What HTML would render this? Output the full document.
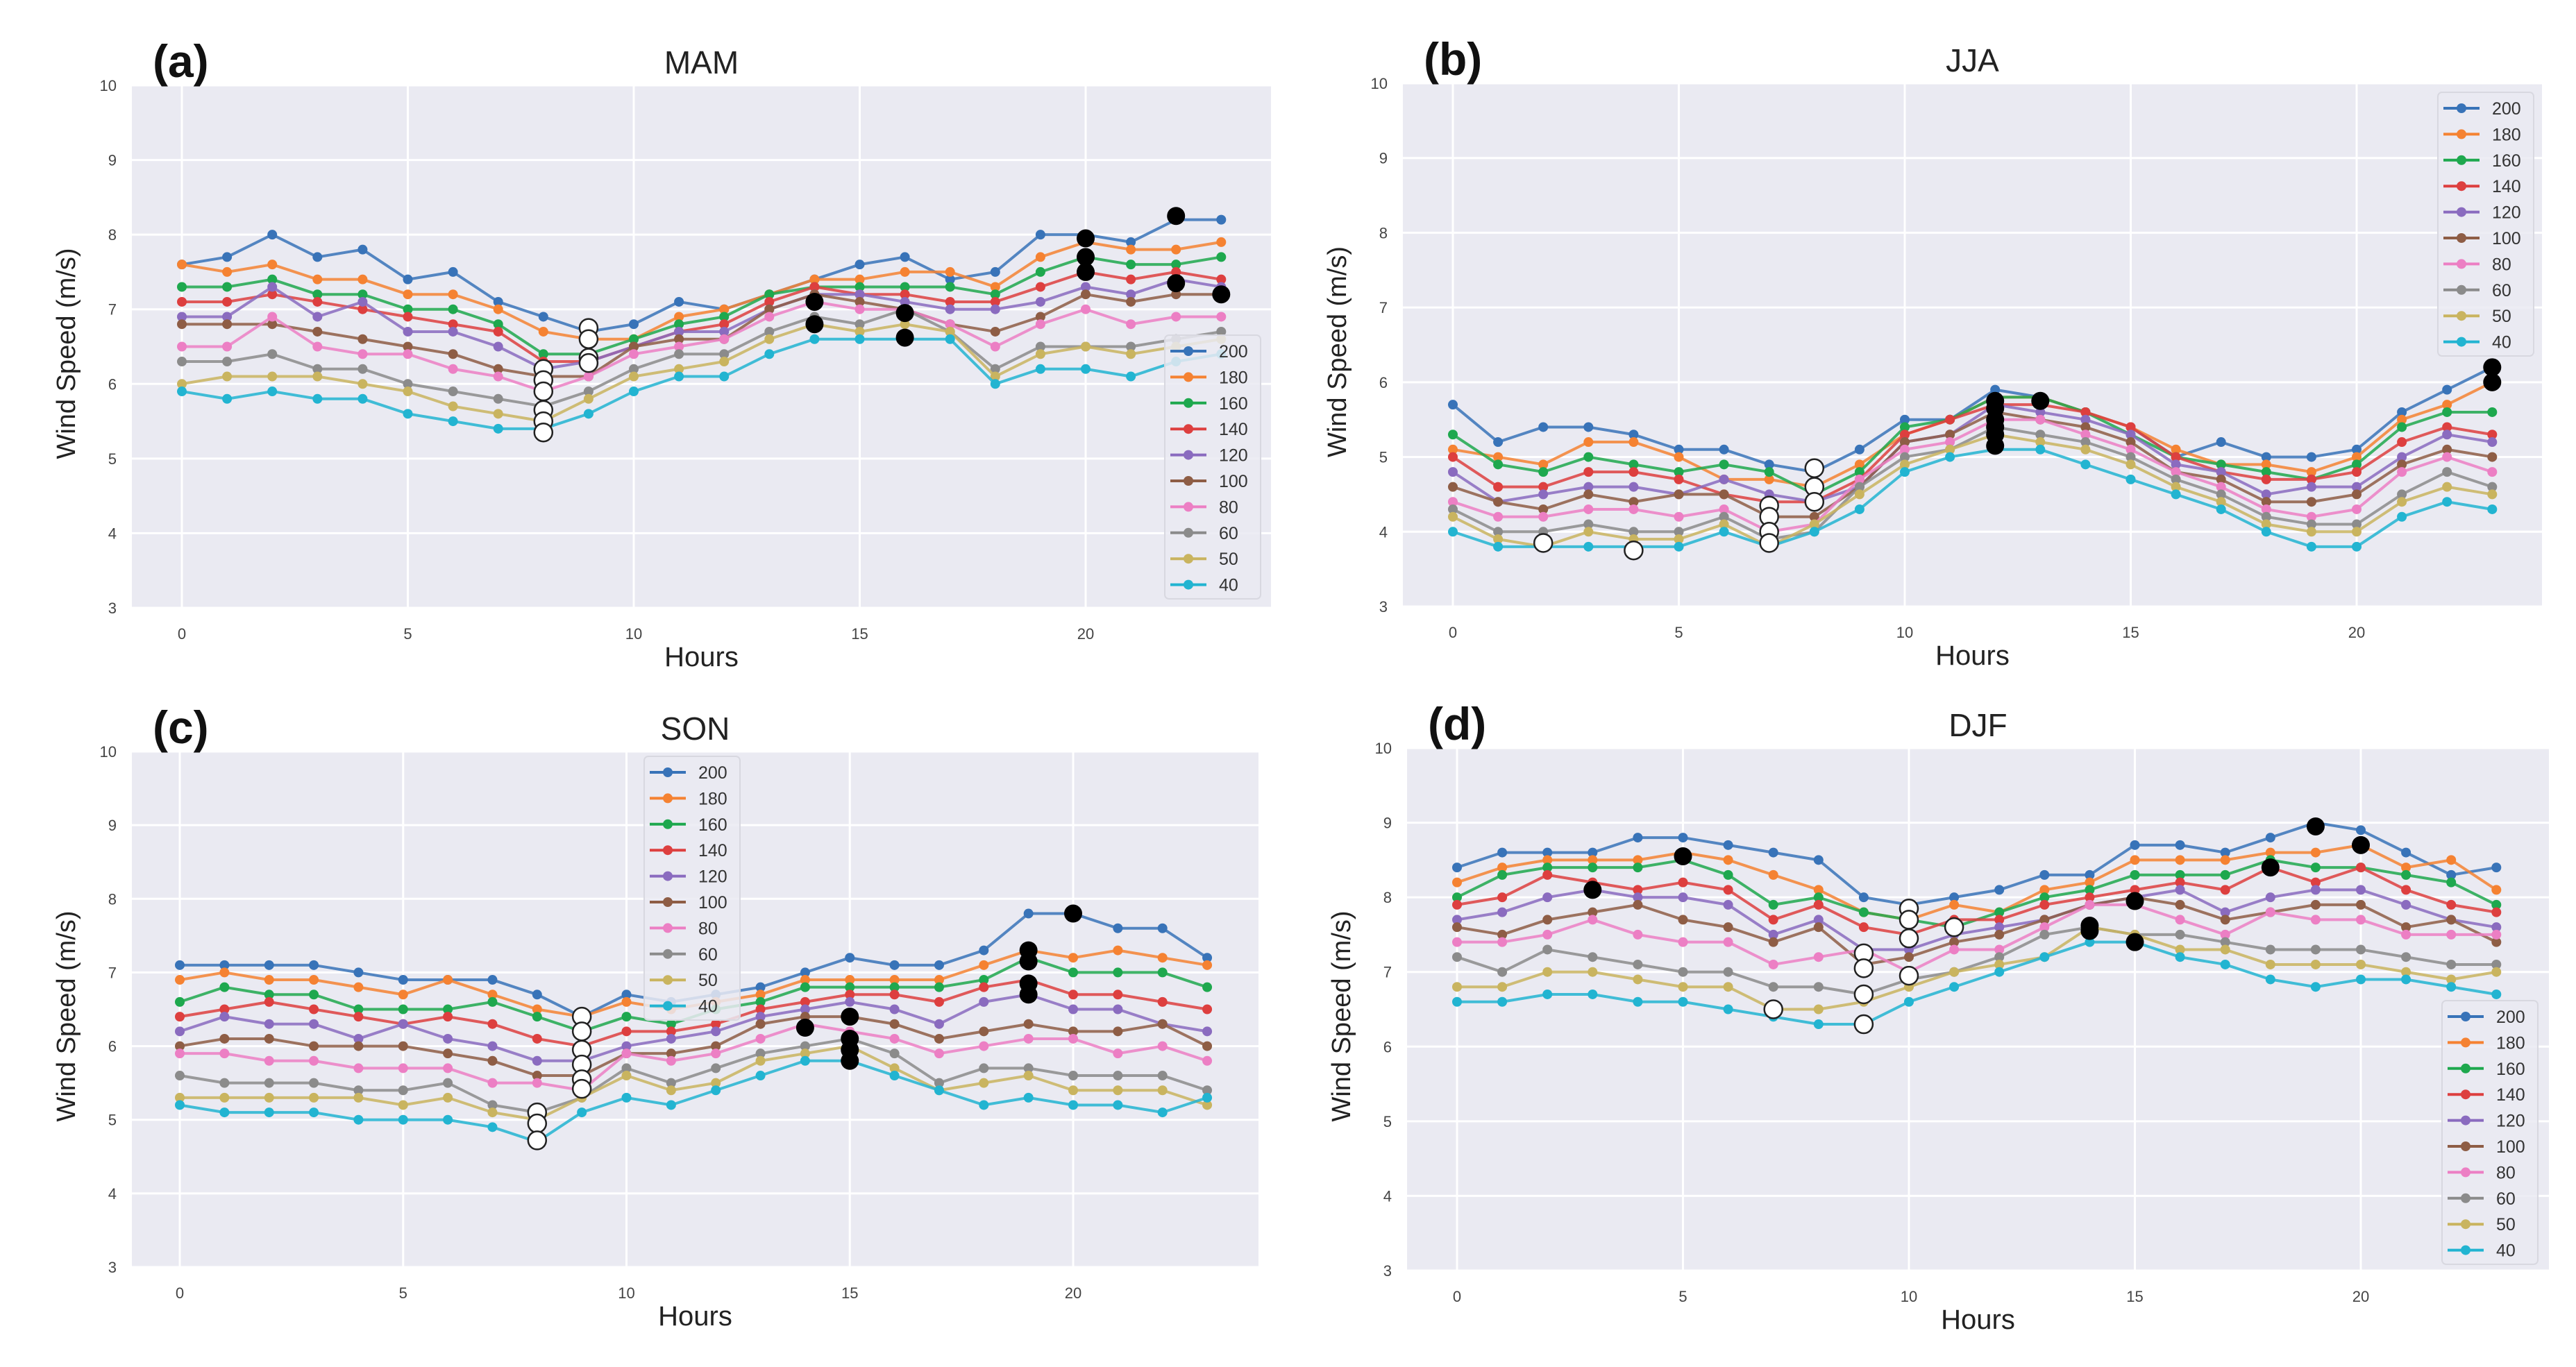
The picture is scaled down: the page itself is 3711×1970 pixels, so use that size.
<!DOCTYPE html>
<html><head><meta charset="utf-8"><style>
html,body{margin:0;padding:0;background:#fff;}
svg{display:block;font-family:"Liberation Sans","DejaVu Sans",sans-serif;}
</style></head><body>
<svg id="fig" width="3711" height="1970" viewBox="0 0 3711 1970" xmlns="http://www.w3.org/2000/svg"></svg>
<script>
const hours = [0,1,2,3,4,5,6,7,8,9,10,11,12,13,14,15,16,17,18,19,20,21,22,23];
const heights = ["200","180","160","140","120","100","80","60","50","40"];
const yTicks = [3,4,5,6,7,8,9,10];
const xTicks = [0,5,10,15,20];
const colors = ["#3873b8","#f58232","#1ea84e","#dd3f3f","#8a6bbf","#8e5d45","#ec7fc4","#8b8b8b","#c9b45f","#22b4d1"];

const mam = [
[7.6,7.7,8.0,7.7,7.8,7.4,7.5,7.1,6.9,6.7,6.8,7.1,7.0,7.2,7.4,7.6,7.7,7.4,7.5,8.0,8.0,7.9,8.2,8.2],
[7.6,7.5,7.6,7.4,7.4,7.2,7.2,7.0,6.7,6.6,6.6,6.9,7.0,7.2,7.4,7.4,7.5,7.5,7.3,7.7,7.9,7.8,7.8,7.9],
[7.3,7.3,7.4,7.2,7.2,7.0,7.0,6.8,6.4,6.4,6.6,6.8,6.9,7.2,7.3,7.3,7.3,7.3,7.2,7.5,7.7,7.6,7.6,7.7],
[7.1,7.1,7.2,7.1,7.0,6.9,6.8,6.7,6.3,6.3,6.5,6.7,6.8,7.1,7.3,7.2,7.2,7.1,7.1,7.3,7.5,7.4,7.5,7.4],
[6.9,6.9,7.3,6.9,7.1,6.7,6.7,6.5,6.2,6.3,6.5,6.7,6.7,7.0,7.2,7.2,7.1,7.0,7.0,7.1,7.3,7.2,7.4,7.3],
[6.8,6.8,6.8,6.7,6.6,6.5,6.4,6.2,6.1,6.1,6.5,6.6,6.6,7.0,7.2,7.1,7.0,6.8,6.7,6.9,7.2,7.1,7.2,7.2],
[6.5,6.5,6.9,6.5,6.4,6.4,6.2,6.1,5.9,6.1,6.4,6.5,6.6,6.9,7.1,7.0,7.0,6.8,6.5,6.8,7.0,6.8,6.9,6.9],
[6.3,6.3,6.4,6.2,6.2,6.0,5.9,5.8,5.7,5.9,6.2,6.4,6.4,6.7,6.9,6.8,7.0,6.7,6.2,6.5,6.5,6.5,6.6,6.7],
[6.0,6.1,6.1,6.1,6.0,5.9,5.7,5.6,5.5,5.8,6.1,6.2,6.3,6.6,6.8,6.7,6.8,6.7,6.1,6.4,6.5,6.4,6.5,6.6],
[5.9,5.8,5.9,5.8,5.8,5.6,5.5,5.4,5.4,5.6,5.9,6.1,6.1,6.4,6.6,6.6,6.6,6.6,6.0,6.2,6.2,6.1,6.3,6.4]];
const mamMin = [[8,6.2],[8,6.05],[8,5.9],[8,5.65],[8,5.5],[8,5.35],[9,6.75],[9,6.6],[9,6.35],[9,6.28]];
const mamMax = [[14,7.1],[14,6.8],[16,6.95],[16,6.62],[20,7.95],[20,7.7],[20,7.5],[22,8.25],[22,7.35],[23,7.2]];

const jja = [
[5.7,5.2,5.4,5.4,5.3,5.1,5.1,4.9,4.8,5.1,5.5,5.5,5.9,5.8,5.6,5.4,5.0,5.2,5.0,5.0,5.1,5.6,5.9,6.2],
[5.1,5.0,4.9,5.2,5.2,5.0,4.7,4.7,4.6,4.9,5.3,5.5,5.8,5.8,5.6,5.4,5.1,4.9,4.9,4.8,5.0,5.5,5.7,6.0],
[5.3,4.9,4.8,5.0,4.9,4.8,4.9,4.8,4.5,4.8,5.4,5.5,5.8,5.8,5.6,5.3,5.0,4.9,4.8,4.7,4.9,5.4,5.6,5.6],
[5.0,4.6,4.6,4.8,4.8,4.7,4.5,4.4,4.4,4.7,5.3,5.5,5.7,5.7,5.6,5.4,5.0,4.8,4.7,4.7,4.8,5.2,5.4,5.3],
[4.8,4.4,4.5,4.6,4.6,4.5,4.7,4.5,4.4,4.6,5.2,5.3,5.7,5.6,5.5,5.3,4.9,4.8,4.5,4.6,4.6,5.0,5.3,5.2],
[4.6,4.4,4.3,4.5,4.4,4.5,4.5,4.2,4.2,4.6,5.2,5.3,5.6,5.5,5.4,5.2,4.8,4.7,4.4,4.4,4.5,4.9,5.1,5.0],
[4.4,4.2,4.2,4.3,4.3,4.2,4.3,4.0,4.1,4.7,5.1,5.2,5.5,5.5,5.3,5.1,4.8,4.6,4.3,4.2,4.3,4.8,5.0,4.8],
[4.3,4.0,4.0,4.1,4.0,4.0,4.2,3.9,4.0,4.6,5.0,5.1,5.4,5.3,5.2,5.0,4.7,4.5,4.2,4.1,4.1,4.5,4.8,4.6],
[4.2,3.9,3.8,4.0,3.9,3.9,4.1,3.8,4.1,4.5,4.9,5.1,5.3,5.2,5.1,4.9,4.6,4.4,4.1,4.0,4.0,4.4,4.6,4.5],
[4.0,3.8,3.8,3.8,3.8,3.8,4.0,3.8,4.0,4.3,4.8,5.0,5.1,5.1,4.9,4.7,4.5,4.3,4.0,3.8,3.8,4.2,4.4,4.3]];
const jjaMin = [[2,3.85],[4,3.75],[7,4.35],[7,4.2],[7,4.0],[7,3.85],[8,4.85],[8,4.6],[8,4.4]];
const jjaMax = [[12,5.75],[12,5.65],[12,5.5],[12,5.4],[12,5.3],[12,5.15],[13,5.75],[23,6.2],[23,6.0]];

const son = [
[7.1,7.1,7.1,7.1,7.0,6.9,6.9,6.9,6.7,6.4,6.7,6.6,6.7,6.8,7.0,7.2,7.1,7.1,7.3,7.8,7.8,7.6,7.6,7.2],
[6.9,7.0,6.9,6.9,6.8,6.7,6.9,6.7,6.5,6.4,6.6,6.5,6.6,6.7,6.9,6.9,6.9,6.9,7.1,7.3,7.2,7.3,7.2,7.1],
[6.6,6.8,6.7,6.7,6.5,6.5,6.5,6.6,6.4,6.2,6.4,6.3,6.5,6.6,6.8,6.8,6.8,6.8,6.9,7.2,7.0,7.0,7.0,6.8],
[6.4,6.5,6.6,6.5,6.4,6.3,6.4,6.3,6.1,6.0,6.2,6.2,6.3,6.5,6.6,6.7,6.7,6.6,6.8,6.9,6.7,6.7,6.6,6.5],
[6.2,6.4,6.3,6.3,6.1,6.3,6.1,6.0,5.8,5.8,6.0,6.1,6.2,6.4,6.5,6.6,6.5,6.3,6.6,6.7,6.5,6.5,6.3,6.2],
[6.0,6.1,6.1,6.0,6.0,6.0,5.9,5.8,5.6,5.6,5.9,5.9,6.0,6.3,6.4,6.4,6.3,6.1,6.2,6.3,6.2,6.2,6.3,6.0],
[5.9,5.9,5.8,5.8,5.7,5.7,5.7,5.5,5.5,5.4,5.9,5.8,5.9,6.1,6.3,6.2,6.1,5.9,6.0,6.1,6.1,5.9,6.0,5.8],
[5.6,5.5,5.5,5.5,5.4,5.4,5.5,5.2,5.1,5.3,5.7,5.5,5.7,5.9,6.0,6.1,5.9,5.5,5.7,5.7,5.6,5.6,5.6,5.4],
[5.3,5.3,5.3,5.3,5.3,5.2,5.3,5.1,5.0,5.3,5.6,5.4,5.5,5.8,5.9,6.0,5.7,5.4,5.5,5.6,5.4,5.4,5.4,5.2],
[5.2,5.1,5.1,5.1,5.0,5.0,5.0,4.9,4.7,5.1,5.3,5.2,5.4,5.6,5.8,5.8,5.6,5.4,5.2,5.3,5.2,5.2,5.1,5.3]];
const sonMin = [[8,5.1],[8,4.95],[8,4.72],[9,6.4],[9,6.2],[9,5.95],[9,5.75],[9,5.55],[9,5.42]];
const sonMax = [[14,6.25],[15,6.4],[15,6.1],[15,5.95],[15,5.8],[19,7.3],[19,7.15],[19,6.85],[19,6.7],[20,7.8]];

const djf = [
[8.4,8.6,8.6,8.6,8.8,8.8,8.7,8.6,8.5,8.0,7.9,8.0,8.1,8.3,8.3,8.7,8.7,8.6,8.8,9.0,8.9,8.6,8.3,8.4],
[8.2,8.4,8.5,8.5,8.5,8.6,8.5,8.3,8.1,7.8,7.7,7.9,7.8,8.1,8.2,8.5,8.5,8.5,8.6,8.6,8.7,8.4,8.5,8.1],
[8.0,8.3,8.4,8.4,8.4,8.5,8.3,7.9,8.0,7.8,7.7,7.6,7.8,8.0,8.1,8.3,8.3,8.3,8.5,8.4,8.4,8.3,8.2,7.9],
[7.9,8.0,8.3,8.2,8.1,8.2,8.1,7.7,7.9,7.6,7.5,7.7,7.7,7.9,8.0,8.1,8.2,8.1,8.4,8.2,8.4,8.1,7.9,7.8],
[7.7,7.8,8.0,8.1,8.0,8.0,7.9,7.5,7.7,7.3,7.3,7.5,7.6,7.7,7.9,8.0,8.1,7.8,8.0,8.1,8.1,7.9,7.7,7.6],
[7.6,7.5,7.7,7.8,7.9,7.7,7.6,7.4,7.6,7.1,7.2,7.4,7.5,7.7,7.9,8.0,7.9,7.7,7.8,7.9,7.9,7.6,7.7,7.4],
[7.4,7.4,7.5,7.7,7.5,7.4,7.4,7.1,7.2,7.3,7.0,7.3,7.3,7.6,7.9,7.9,7.7,7.5,7.8,7.7,7.7,7.5,7.5,7.5],
[7.2,7.0,7.3,7.2,7.1,7.0,7.0,6.8,6.8,6.7,6.9,7.0,7.2,7.5,7.6,7.5,7.5,7.4,7.3,7.3,7.3,7.2,7.1,7.1],
[6.8,6.8,7.0,7.0,6.9,6.8,6.8,6.5,6.5,6.6,6.8,7.0,7.1,7.2,7.6,7.5,7.3,7.3,7.1,7.1,7.1,7.0,6.9,7.0],
[6.6,6.6,6.7,6.7,6.6,6.6,6.5,6.4,6.3,6.3,6.6,6.8,7.0,7.2,7.4,7.4,7.2,7.1,6.9,6.8,6.9,6.9,6.8,6.7]];
const djfMin = [[7,6.5],[9,7.25],[9,7.05],[9,6.7],[9,6.3],[10,7.85],[10,7.7],[10,7.45],[10,6.95],[11,7.6]];
const djfMax = [[3,8.1],[5,8.55],[14,7.62],[14,7.55],[15,7.95],[15,7.4],[18,8.4],[19,8.95],[20,8.7]];

const panels = [
 {id:"mam",letter:"(a)",title:"MAM",data:mam,mins:mamMin,maxs:mamMax,L:190,R:1831,T:123,B:876,x0:262,x20:1564,lx:1678,ly:483},
 {id:"jja",letter:"(b)",title:"JJA",data:jja,mins:jjaMin,maxs:jjaMax,L:2021,R:3662,T:120,B:874,x0:2093,x20:3395,lx:3512,ly:133},
 {id:"son",letter:"(c)",title:"SON",data:son,mins:sonMin,maxs:sonMax,L:190,R:1813,T:1083,B:1826,x0:259,x20:1546,lx:928,ly:1090},
 {id:"djf",letter:"(d)",title:"DJF",data:djf,mins:djfMin,maxs:djfMax,L:2027,R:3672,T:1078,B:1831,x0:2099,x20:3401,lx:3518,ly:1442}
];
const NS="http://www.w3.org/2000/svg";
const svg=document.getElementById('fig');
function mk(tag,attrs,parent,text){const e=document.createElementNS(NS,tag);for(const k in attrs)e.setAttribute(k,attrs[k]);if(text!==undefined)e.textContent=text;parent.appendChild(e);return e;}

panels.forEach(p=>{
  const g=mk('g',{},svg);
  
  
  const xs=h=>p.x0+(p.x20-p.x0)*h/20;
  const ys=v=>p.B-(v-3)/7*(p.B-p.T);
  const bg=mk('rect',{x:p.L,y:p.T,width:p.R-p.L,height:p.B-p.T,fill:'#eaeaf2'},g);
  
  
  yTicks.forEach(t=>{
    const ln=mk('line',{x1:p.L,x2:p.R,y1:ys(t),y2:ys(t),stroke:'#fff','stroke-width':3},g);
    
    
    const tx=mk('text',{x:p.L-22,y:ys(t)+8,'font-size':22,fill:'#444','text-anchor':'end'},g,String(t));
    
    
  });
  xTicks.forEach(t=>{
    const ln=mk('line',{x1:xs(t),x2:xs(t),y1:p.T,y2:p.B,stroke:'#fff','stroke-width':3},g);
    
    
    const tx=mk('text',{x:xs(t),y:p.B+45,'font-size':22,fill:'#444','text-anchor':'middle'},g,String(t));
    
    
  });
  const lt=mk('text',{x:p.L+30,y:p.T-12,'font-size':66,'font-weight':'bold',fill:'#111'},g,p.letter);
  
  
  const ti=mk('text',{x:(p.L+p.R)/2,y:p.T-17,'font-size':46,fill:'#222','text-anchor':'middle'},g,p.title);
  
  
  const xl=mk('text',{x:(p.L+p.R)/2,y:p.B+84,'font-size':40,fill:'#222','text-anchor':'middle'},g,'Hours');
  
  
  const yl=mk('text',{x:0,y:0,'font-size':38,fill:'#222','text-anchor':'middle',transform:`translate(${p.L-82},${(p.T+p.B)/2+10}) rotate(-90)`},g,'Wind Speed (m/s)');
  
  
  p.data.forEach((ser,si)=>{
    const sg=mk('g',{},g);
    
    
    const pts=ser.map((v,i)=>xs(hours[i])+','+ys(v)).join(' ');
    const pl=mk('polyline',{points:pts,fill:'none',stroke:colors[si],'stroke-width':4,'stroke-opacity':0.85},sg);
    
    
    ser.forEach((v,i)=>{
      const c=mk('circle',{cx:xs(hours[i]),cy:ys(v),r:7,fill:colors[si]},sg);
      
      
    });
  });
  p.mins.forEach(m=>{
    const c=mk('circle',{cx:xs(m[0]),cy:ys(m[1]),r:13,fill:'#fff',stroke:'#222','stroke-width':2.5},g);
    
    
  });
  p.maxs.forEach(m=>{
    const c=mk('circle',{cx:xs(m[0]),cy:ys(m[1]),r:13,fill:'#000'},g);
    
    
  });
  const lg=mk('g',{},g);
  
  
  const lb=mk('rect',{x:p.lx,y:p.ly,width:138,height:380,rx:6,fill:'#eaeaf2','fill-opacity':0.85,stroke:'#d8d8e0','stroke-width':2},lg);
  
  
  heights.forEach((h,i)=>{
    const y=p.ly+23+i*37.4;
    const e=mk('g',{},lg);
    
    
    mk('line',{x1:p.lx+8,x2:p.lx+60,y1:y,y2:y,stroke:colors[i],'stroke-width':4},e);
    mk('circle',{cx:p.lx+34,cy:y,r:7,fill:colors[i]},e);
    mk('text',{x:p.lx+78,y:y+9,'font-size':25,fill:'#333'},e,h);
  });
});
</script>
</body></html>
